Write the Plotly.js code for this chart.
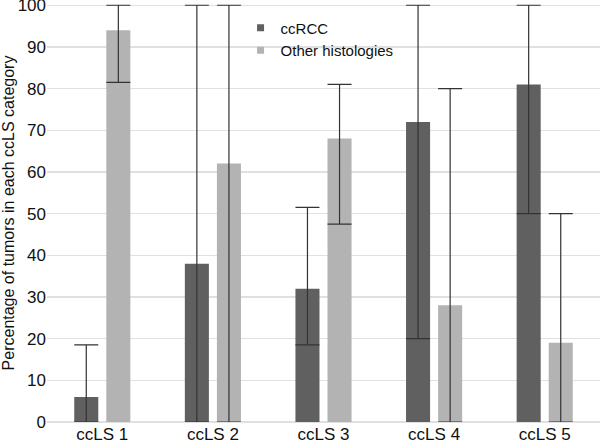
<!DOCTYPE html>
<html>
<head>
<meta charset="utf-8">
<script src="https://cdn.plot.ly/plotly-3.0.1.min.js"></script>
<style>html,body{margin:0;padding:0;background:#fff;}#chart{width:600px;height:441px;}</style>
</head>
<body>
<div id="chart"></div>
<script>
const categories = ["ccLS 1", "ccLS 2", "ccLS 3", "ccLS 4", "ccLS 5"];
const ccrccValues = [6, 38, 32, 72, 81];
const ccrccLower  = [0, 0, 18.5, 20, 50];
const ccrccUpper  = [18.5, 100, 51.5, 100, 100];
const otherValues = [94, 62, 68, 28, 19];
const otherLower  = [81.5, 0, 47.5, 0, 0];
const otherUpper  = [100, 100, 81, 80, 50];
const yTicks = [0, 10, 20, 30, 40, 50, 60, 70, 80, 90, 100];
const seriesNames = ["ccRCC", "Other histologies"];
const seriesColors = ["#606060", "#b3b3b3"];

function errBar(vals, lo, hi) {
  return {
    type: 'data', symmetric: false,
    array: vals.map((v, i) => hi[i] - v),
    arrayminus: vals.map((v, i) => v - lo[i]),
    color: '#333333', thickness: 1.2, width: 12, visible: true
  };
}

const data = [
  {type: 'bar', name: seriesNames[0], x: categories, y: ccrccValues, showlegend: false,
   marker: {color: seriesColors[0]}, error_y: errBar(ccrccValues, ccrccLower, ccrccUpper)},
  {type: 'bar', name: seriesNames[1], x: categories, y: otherValues, showlegend: false,
   marker: {color: seriesColors[1]}, error_y: errBar(otherValues, otherLower, otherUpper)},
  {type: 'scatter', mode: 'markers', name: seriesNames[0], x: [null], y: [null],
   marker: {symbol: 'square', size: 7, color: seriesColors[0]}},
  {type: 'scatter', mode: 'markers', name: seriesNames[1], x: [null], y: [null],
   marker: {symbol: 'square', size: 7, color: seriesColors[1]}}
];

const layout = {
  width: 600, height: 441,
  margin: {l: 47, r: 0, t: 4, b: 19},
  paper_bgcolor: '#ffffff', plot_bgcolor: '#ffffff',
  font: {family: 'Liberation Sans, Arial, sans-serif', color: '#111111'},
  barmode: 'group', bargap: 0.42, bargroupgap: 0.25,
  showlegend: true,
  legend: {x: 0.35, y: 0.982, xanchor: 'left', yanchor: 'top',
           font: {size: 15, color: '#111'}, bgcolor: 'rgba(255,255,255,0)',
           itemwidth: 30},
  xaxis: {
    type: 'category',
    tickfont: {size: 17, color: '#111'}, showline: false, showgrid: false,
    ticks: '', zeroline: false, automargin: false, ticklabeloverflow: 'allow'
  },
  yaxis: {
    range: [0, 100.3], tickvals: yTicks, ticktext: yTicks.map(String),
    tickfont: {size: 17, color: '#111'}, showgrid: true, gridcolor: '#e0e0e0',
    gridwidth: 1.5, zeroline: true, zerolinecolor: '#e0e0e0', zerolinewidth: 1.5,
    showline: false, ticks: '', automargin: false, ticklabeloverflow: 'allow',
    title: {text: 'Percentage of tumors in each ccLS category', font: {size: 16, color: '#111'}, standoff: 8}
  }
};

Plotly.newPlot('chart', data, layout, {displayModeBar: false, staticPlot: true});
</script>
</body>
</html>
